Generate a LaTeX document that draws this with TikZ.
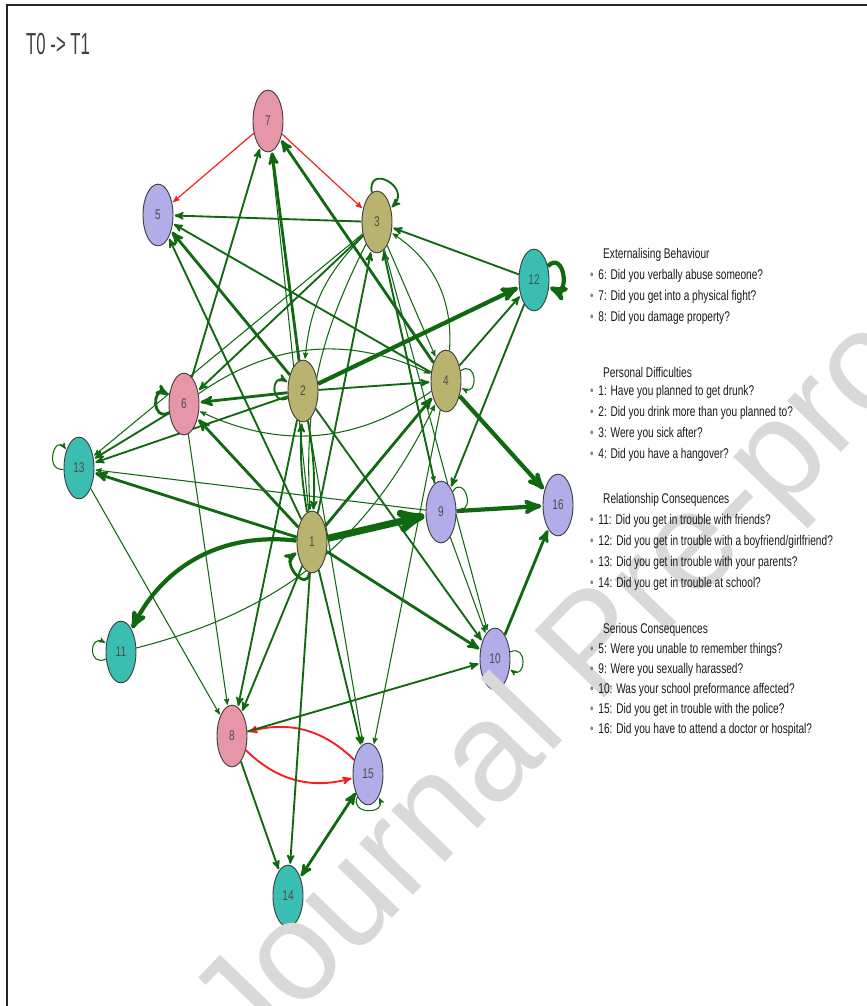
\documentclass[tikz,border=0pt]{standalone}
\usepackage{fontspec}
\setmainfont{Liberation Sans}
\newfontfamily\narrowfont[FakeStretch=0.72]{Liberation Sans}
\newfontfamily\titlefont[FakeStretch=0.55]{Liberation Sans}
\usetikzlibrary{arrows,shapes.geometric,backgrounds}

\definecolor{extpink}{RGB}{230,150,166}
\definecolor{perolive}{RGB}{184,180,112}
\definecolor{relteal}{RGB}{58,190,178}
\definecolor{serlav}{RGB}{178,172,232}
\definecolor{linkgreen}{RGB}{16,104,16}
\definecolor{linkred}{RGB}{246,30,30}

\begin{document}
\begin{tikzpicture}
  [x=0.03cm,y=0.03cm,>=stealth',shorten >=1pt,
  item node/.style={ellipse,draw=black!75,line width=0.8pt,minimum width=0.9cm,
    minimum height=1.85cm,inner sep=0pt,font=\narrowfont\fontsize{12}{12}\selectfont,text=black!70},
  ext node/.style={item node,fill=extpink},
  per node/.style={item node,fill=perolive},
  rel node/.style={item node,fill=relteal},
  ser node/.style={item node,fill=serlav},
  weak link/.style={->,draw=linkgreen,line width=0.9pt},
  mid link/.style={->,draw=linkgreen,line width=1.6pt},
  strong link/.style={->,draw=linkgreen,line width=2.4pt},
  heavy link/.style={->,draw=linkgreen,line width=3.6pt},
  huge link/.style={->,draw=linkgreen,line width=6pt},
  red link/.style={->,draw=linkred,line width=1pt},
  legend head/.style={anchor=west,inner sep=0pt,text=black!90,
    font=\narrowfont\fontsize{12}{13}\selectfont},
  legend item/.style={legend head,
    execute at begin node={\textcolor{black!50}{\textbullet}\hspace{4pt}}}]

  \useasboundingbox (0,0) rectangle (866,-1006);
  \draw[line width=1.6pt,black!85] (7,-1012) -- (7,-5) -- (872,-5);
  \node[anchor=west,inner sep=0pt,text=black!75,font=\titlefont\fontsize{26}{30}\selectfont]
    (title) at (26,-44) {T0 -> T1};

  % variables
  \node[ext node] (7) at (268,-121) {7};
  \node[ser node] (5) at (158,-215) {5};
  \node[per node] (3) at (377,-222) {3};
  \node[rel node] (12) at (534,-280) {12};
  \node[per node] (4) at (446,-381) {4};
  \node[per node] (2) at (303,-391) {2};
  \node[ext node] (6) at (184,-404) {6};
  \node[rel node] (13) at (79,-468) {13};
  \node[per node] (1) at (312,-542) {1};
  \node[ser node] (9) at (441,-512) {9};
  \node[ser node] (16) at (558,-505) {16};
  \node[rel node] (11) at (121,-652) {11};
  \node[ser node] (10) at (495,-659) {10};
  \node[ext node] (8) at (232,-736) {8};
  \node[ser node] (15) at (368,-774) {15};
  \node[rel node] (14) at (288,-896) {14};

  % cross-lagged links
  \begin{scope}[on background layer]
  \path
  (7) edge[red link] (5)
  (7) edge[red link] (3)
  (8) edge[red link,line width=1.6pt,bend right=30] (15)
  (15) edge[red link,line width=1.6pt,bend right=30] (8)
  (3) edge[mid link] (5)
  (4) edge[mid link] (5)
  (2) edge[strong link] (5)
  (1) edge[mid link] (5)
  (6) edge[mid link] (7)
  (2) edge[strong link] (7)
  (1) edge[weak link] (7)
  (4) edge[strong link] (7)
  (12) edge[mid link] (3)
  (3) edge[mid link] (6)
  (3) edge[weak link,bend right=20] (2)
  (3) edge[weak link,bend right=15] (1)
  (3) edge[weak link] (13)
  (3) edge[weak link] (4)
  (1) edge[mid link] (3)
  (9) edge[mid link] (3)
  (4) edge[weak link,bend right=30] (3)
  (2) edge[heavy link] (12)
  (4) edge[mid link] (12)
  (12) edge[mid link] (9)
  (4) edge[heavy link] (16)
  (1) edge[huge link] (9)
  (9) edge[heavy link] (16)
  (10) edge[strong link] (16)
  (2) edge[mid link] (4)
  (1) edge[strong link] (4)
  (2) edge[strong link] (6)
  (1) edge[strong link] (6)
  (6) edge[mid link] (13)
  (2) edge[mid link] (13)
  (1) edge[strong link] (13)
  (9) edge[weak link] (13)
  (6) edge[weak link,bend left=30] (4)
  (4) edge[weak link,bend left=30] (6)
  (1) edge[heavy link,bend right=35] (11)
  (11) edge[weak link,bend right=25] (4)
  (13) edge[weak link] (8)
  (6) edge[weak link] (8)
  (2) edge[mid link] (8)
  (1) edge[mid link] (8)
  (1) edge[mid link] (14)
  (1) edge[mid link] (15)
  (8) edge[mid link] (14)
  (15) edge[strong link,<->] (14)
  (8) edge[mid link] (10)
  (1) edge[strong link] (10)
  (2) edge[mid link] (10)
  (3) edge[weak link] (10)
  (4) edge[weak link] (15)
  (2) edge[weak link] (15)
  (1) edge[mid link,bend left=6] (2)
  (2) edge[mid link,bend left=6] (1)
  (3) edge[weak link] (9)
  (9) edge[weak link] (10)
  % autoregressive loops
  (3) edge[mid link,out=100,in=45,min distance=0.9cm] (3)
  (12) edge[heavy link,out=45,in=-25,min distance=0.7cm] (12)
  (4) edge[weak link,out=35,in=-25,min distance=0.6cm] (4)
  (2) edge[mid link,out=205,in=150,min distance=0.6cm] (2)
  (6) edge[strong link,out=210,in=150,min distance=0.6cm] (6)
  (13) edge[weak link,out=185,in=125,min distance=0.6cm] (13)
  (1) edge[strong link,out=265,in=215,min distance=0.6cm] (1)
  (11) edge[weak link,out=205,in=150,min distance=0.6cm] (11)
  (9) edge[weak link,out=60,in=5,min distance=0.6cm] (9)
  (10) edge[weak link,out=25,in=-35,min distance=0.6cm] (10)
  (15) edge[weak link,out=-115,in=-65,min distance=0.6cm] (15);
  \end{scope}

  \node[rotate=46,text=black!15,font=\fontsize{120}{120}\selectfont] (watermark) at (600,-650) {Journal Pre-proof};

  % legend
  \node[legend head] (ext) at (603,-255) {Externalising Behaviour};
  \node[legend item] (q6) at (590,-276) {6: Did you verbally abuse someone?};
  \node[legend item] (q7) at (590,-297) {7: Did you get into a physical fight?};
  \node[legend item] (q8) at (590,-318) {8: Did you damage property?};
  \node[legend head] (per) at (603,-372) {Personal Difficulties};
  \node[legend item] (q1) at (590,-392) {1: Have you planned to get drunk?};
  \node[legend item] (q2) at (590,-413) {2: Did you drink more than you planned to?};
  \node[legend item] (q3) at (590,-434) {3: Were you sick after?};
  \node[legend item] (q4) at (590,-455) {4: Did you have a hangover?};
  \node[legend head] (rel) at (603,-500) {Relationship Consequences};
  \node[legend item] (q11) at (590,-521) {11: Did you get in trouble with friends?};
  \node[legend item] (q12) at (590,-542) {12: Did you get in trouble with a boyfriend/girlfriend?};
  \node[legend item] (q13) at (590,-563) {13: Did you get in trouble with your parents?};
  \node[legend item] (q14) at (590,-584) {14: Did you get in trouble at school?};
  \node[legend head] (ser) at (603,-630) {Serious Consequences};
  \node[legend item] (q5) at (590,-650) {5: Were you unable to remember things?};
  \node[legend item] (q9) at (590,-670) {9: Were you sexually harassed?};
  \node[legend item] (q10) at (590,-690) {10: Was your school preformance affected?};
  \node[legend item] (q15) at (590,-710) {15: Did you get in trouble with the police?};
  \node[legend item] (q16) at (590,-730) {16: Did you have to attend a doctor or hospital?};
\end{tikzpicture}
\end{document}
